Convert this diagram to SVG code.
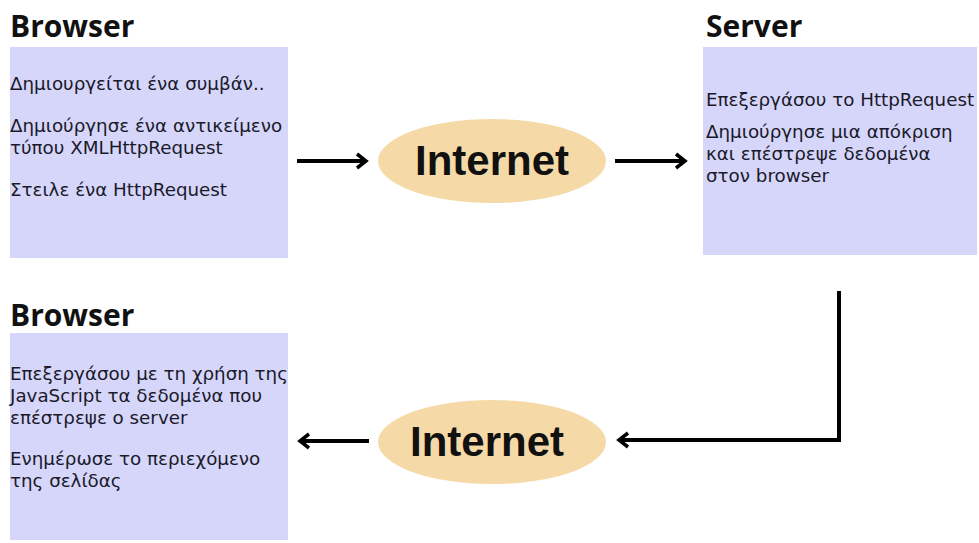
<svg xmlns="http://www.w3.org/2000/svg" width="979" height="543" viewBox="0 0 979 543">
<style>
.box{fill:#d6d6fa}
.cloud{fill:#f5daa8}
.title{font-family:"Open Sans","Liberation Sans",sans-serif;font-weight:bold;font-size:30px;fill:#111}
.t{font-family:"DejaVu Sans","Open Sans",sans-serif;font-size:18.3px;fill:#1a1a2a}
.net{font-family:"Liberation Sans",Arial,sans-serif;font-weight:bold;font-size:42px;fill:#111}
.line{fill:none;stroke:#000;stroke-width:4}
</style>
<defs>
<marker id="ah" markerUnits="userSpaceOnUse" markerWidth="16" markerHeight="18" refX="12" refY="9" orient="auto">
<path d="M3,2 L12,9 L3,16" fill="none" stroke="#000" stroke-width="3.5"/>
</marker>
</defs>
<rect width="979" height="543" fill="#fff"/>
<g id="browser1">
<text class="title" x="10" y="37">Browser</text>
<rect class="box" x="10" y="47" width="278" height="211"/>
<text class="t" x="10" y="90">Δημιουργείται ένα συμβάν..</text>
<text class="t" x="10" y="132">Δημιούργησε ένα αντικείμενο</text>
<text class="t" x="10" y="154">τύπου XMLHttpRequest</text>
<text class="t" x="10" y="196">Στειλε ένα HttpRequest</text>
</g>
<g id="internet1">
<ellipse class="cloud" cx="492" cy="161" rx="114" ry="42"/>
<text class="net" x="492" y="175" text-anchor="middle">Internet</text>
</g>
<g id="server">
<text class="title" x="706" y="37">Server</text>
<rect class="box" x="703" y="47" width="274" height="208"/>
<text class="t" x="706" y="106">Επεξεργάσου το HttpRequest</text>
<text class="t" x="706" y="138">Δημιούργησε μια απόκριση</text>
<text class="t" x="706" y="160">και επέστρεψε δεδομένα</text>
<text class="t" x="706" y="182">στον browser</text>
</g>
<g id="browser2">
<text class="title" x="10" y="326">Browser</text>
<rect class="box" x="10" y="333" width="278" height="207"/>
<text class="t" x="10" y="380">Επεξεργάσου με τη χρήση της</text>
<text class="t" x="10" y="402">JavaScript τα δεδομένα που</text>
<text class="t" x="10" y="424">επέστρεψε ο server</text>
<text class="t" x="10" y="465">Ενημέρωσε το περιεχόμενο</text>
<text class="t" x="10" y="487">της σελίδας</text>
</g>
<g id="internet2">
<ellipse class="cloud" cx="492" cy="442" rx="114" ry="42"/>
<text class="net" x="487" y="456" text-anchor="middle">Internet</text>
</g>
<g id="connectors">
<path class="line" d="M297,161 H366" marker-end="url(#ah)"/>
<path class="line" d="M615,161 H685" marker-end="url(#ah)"/>
<path class="line" d="M839,291 V440 H619" marker-end="url(#ah)"/>
<path class="line" d="M369,441 H300" marker-end="url(#ah)"/>
</g>
</svg>
